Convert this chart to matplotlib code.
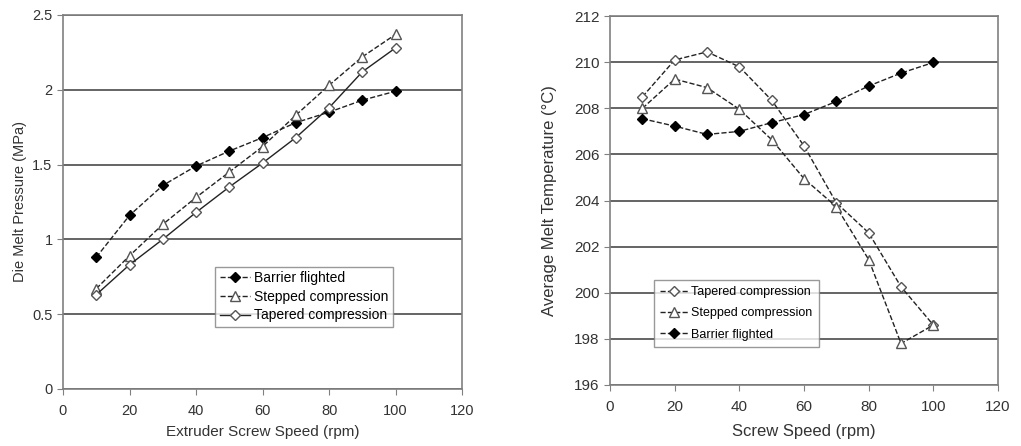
import numpy as np
import matplotlib
matplotlib.use('Agg')
import matplotlib.pyplot as plt

plt.rcParams['font.family'] = ['Liberation Sans', 'DejaVu Sans']

speed = [10, 20, 30, 40, 50, 60, 70, 80, 90, 100]

# die melt pressure (MPa)
p_barrier = [0.88, 1.16, 1.36, 1.49, 1.59, 1.68, 1.78, 1.85, 1.93, 1.99]
p_stepped = [0.67, 0.89, 1.10, 1.28, 1.45, 1.62, 1.83, 2.03, 2.22, 2.37]
p_tapered = [0.63, 0.83, 1.00, 1.18, 1.35, 1.51, 1.68, 1.88, 2.12, 2.28]

# average melt temperature (C)
t_tapered = [208.5, 210.1, 210.45, 209.8, 208.35, 206.37, 203.9, 202.6, 200.26, 198.6]
t_stepped = [208.0, 209.27, 208.9, 207.96, 206.64, 204.95, 203.73, 201.44, 197.8, 198.6]
t_barrier = [207.55, 207.23, 206.87, 207.0, 207.38, 207.73, 208.3, 208.97, 209.53, 209.99]

line_c = '#222222'
grid_c = '#4a4a4a'
frame_c = '#808080'
text_c = '#333333'


def style_axes(ax, yticks, size):
    ax.set_xlim(0, 120)
    ax.set_xticks(np.arange(0, 121, 20))
    ax.set_ylim(yticks[0], yticks[-1])
    ax.set_yticks(yticks)
    ax.grid(axis='y', color=grid_c, linewidth=1.2)
    ax.set_axisbelow(True)
    for s in ax.spines.values():
        s.set_color(frame_c)
        s.set_linewidth(1.2)
    ax.tick_params(direction='out', length=4, color=frame_c, labelsize=size, labelcolor=text_c)
    ax.tick_params(axis='x', pad=7)


fig = plt.figure(figsize=(10.21, 4.46), dpi=100)

# left: die melt pressure
ax1 = fig.add_axes([0.0617, 0.128, 0.391, 0.8386])
ax1.plot(speed, p_barrier, '--', color=line_c, lw=1, marker='D', ms=5, mfc='black', mec='black', label='Barrier flighted')
ax1.plot(speed, p_stepped, '--', color=line_c, lw=1, marker='^', ms=7, mfc='white', mec='#555555', label='Stepped compression')
ax1.plot(speed, p_tapered, '-', color=line_c, lw=1, marker='D', ms=5, mfc='white', mec='#555555', label='Tapered compression')
style_axes(ax1, [0, 0.5, 1, 1.5, 2, 2.5], 10.5)
ax1.set_yticklabels(['0', '0.5', '1', '1.5', '2', '2.5'])
ax1.set_xlabel('Extruder Screw Speed (rpm)', fontsize=11, color=text_c, labelpad=5)
ax1.set_ylabel('Die Melt Pressure (MPa)', fontsize=10.5, color=text_c)
leg1 = ax1.legend(loc='upper left', bbox_to_anchor=(0.382, 0.327), fontsize=10, frameon=True,
                  fancybox=False, edgecolor=frame_c, handlelength=2.2, handletextpad=0.3,
                  borderpad=0.3, labelspacing=0.35, borderaxespad=0)
leg1.get_frame().set_linewidth(1.0)

# right: average melt temperature
ax2 = fig.add_axes([0.5975, 0.1368, 0.380, 0.827])
ax2.plot(speed, t_tapered, '--', color=line_c, lw=1, marker='D', ms=5, mfc='white', mec='#555555', label='Tapered compression')
ax2.plot(speed, t_stepped, '--', color=line_c, lw=1, marker='^', ms=7, mfc='white', mec='#555555', label='Stepped compression')
ax2.plot(speed, t_barrier, '--', color=line_c, lw=1, marker='D', ms=5, mfc='black', mec='black', label='Barrier flighted')
style_axes(ax2, np.arange(196, 213, 2), 11)
ax2.set_xlabel('Screw Speed (rpm)', fontsize=12, color=text_c, labelpad=7)
ax2.set_ylabel('Average Melt Temperature (°C)', fontsize=12, color=text_c, labelpad=12)
leg2 = ax2.legend(loc='upper left', bbox_to_anchor=(0.113, 0.285), fontsize=9, frameon=True,
                  fancybox=False, edgecolor=frame_c, handlelength=2.2, handletextpad=0.3,
                  borderpad=0.5, labelspacing=0.75, borderaxespad=0)
leg2.get_frame().set_linewidth(1.0)

plt.savefig('out.png', dpi=100)
